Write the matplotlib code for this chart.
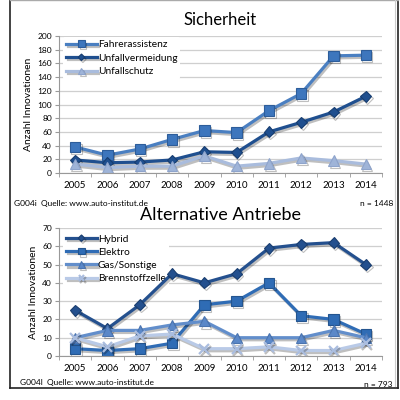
import matplotlib.pyplot as plt
import matplotlib.patheffects as pe
from matplotlib.lines import Line2D

plt.rcParams['font.family'] = ['Lato', 'DejaVu Sans']

years = ['2005', '2006', '2007', '2008', '2009', '2010', '2011', '2012', '2013', '2014']

# Sicherheit
fahrerassistenz = [38, 26, 35, 49, 62, 59, 91, 116, 171, 172]
unfallvermeidung = [19, 15, 16, 19, 31, 30, 60, 74, 89, 112]
unfallschutz = [13, 8, 10, 10, 25, 10, 14, 22, 18, 13]

# Alternative Antriebe
hybrid = [25, 15, 28, 45, 40, 45, 59, 61, 62, 50]
elektro = [4, 3, 4, 7, 28, 30, 40, 22, 20, 12]
gas = [10, 14, 14, 17, 19, 10, 10, 10, 14, 10]
brennstoff = [10, 5, 11, 12, 4, 4, 5, 3, 3, 7]

fig = plt.figure(figsize=(4, 4), dpi=100)
fig.patch.set_facecolor('white')

shadow = [pe.SimpleLineShadow(offset=(1, -1.5), alpha=0.25), pe.Normal()]


def style_axes(ax, ymax, ystep):
    ax.set_xlim(-0.5, 9.5)
    ax.set_ylim(0, ymax)
    ax.set_yticks(range(0, ymax + 1, ystep))
    ax.set_xticks(range(10))
    ax.set_xticklabels(years)
    ax.set_xticks([i - 0.5 for i in range(11)], minor=True)
    ax.tick_params(axis='x', which='major', length=0, labelsize=7, pad=6)
    ax.tick_params(axis='x', which='minor', length=3, color='#999999')
    ax.tick_params(axis='y', length=3, color='#999999', labelsize=6, pad=2)
    ax.grid(axis='y', color='#cfcfcf', lw=0.9)
    ax.set_axisbelow(True)
    for s in ['top', 'right']:
        ax.spines[s].set_visible(False)
    for s in ['left', 'bottom']:
        ax.spines[s].set_color('#999999')
        ax.spines[s].set_linewidth(0.8)
    ax.set_ylabel('Anzahl Innovationen', fontsize=7.5, labelpad=3)


def add_legend(ax, y0, spacing):
    leg = ax.legend(loc='upper left', bbox_to_anchor=(0.01, y0), fontsize=7.3, frameon=True,
                    framealpha=1, edgecolor='none', handlelength=3.0, handletextpad=0.1,
                    labelspacing=spacing, borderpad=0.3, borderaxespad=0.1, markerscale=0.6)
    # keep the legend behind the data lines, but above the grid
    leg.set_zorder(1.5)
    return leg


x = range(10)

# --- Sicherheit
ax1 = fig.add_axes([0.1475, 0.5675, 0.8075, 0.3425])
ax1.plot(x, fahrerassistenz, color='#4a7fc1', lw=2.3, marker='s', ms=7.5,
         mfc='#3d76bd', mec='#2d5d9a', mew=0.8, label='Fahrerassistenz', path_effects=shadow)
ax1.plot(x, unfallvermeidung, color='#1f4f8f', lw=2.3, marker='D', ms=5.5,
         mfc='#1f4f8f', mec='#173d70', mew=0.8, label='Unfallvermeidung', path_effects=shadow)
ax1.plot(x, unfallschutz, color='#a9bcdd', lw=2.3, marker='^', ms=7.5,
         mfc='#9fb4d8', mec='#8ea4cc', mew=0.8, label='Unfallschutz', path_effects=shadow)
style_axes(ax1, 200, 20)
ax1.set_title('Sicherheit', fontsize=12, pad=8)
add_legend(ax1, 1.0, 0.45)

fig.text(0.035, 0.492, 'G004i  Quelle: www.auto-institut.de', fontsize=6, va='center')
fig.text(0.983, 0.492, 'n = 1448', fontsize=6, va='center', ha='right')

# --- Alternative Antriebe
ax2 = fig.add_axes([0.1475, 0.11, 0.8075, 0.32])
ax2.plot(x, hybrid, color='#24508e', lw=2.3, marker='D', ms=5.5,
         mfc='#24508e', mec='#1a3e70', mew=0.8, label='Hybrid', path_effects=shadow)
ax2.plot(x, elektro, color='#2f6cb5', lw=2.3, marker='s', ms=7.5,
         mfc='#2f6cb5', mec='#24558f', mew=0.8, label='Elektro', path_effects=shadow)
ax2.plot(x, gas, color='#628ecb', lw=2.3, marker='^', ms=7.5,
         mfc='#5b88c8', mec='#4a74b0', mew=0.8, label='Gas/Sonstige', path_effects=shadow)
ax2.plot(x, brennstoff, color='#b9cae7', lw=2.3, marker='x', ms=7,
         mec='#aabddf', mew=1.6, label='Brennstoffzelle', path_effects=shadow)
style_axes(ax2, 70, 10)
ax2.set_title('Alternative Antriebe', fontsize=13, pad=6)
add_legend(ax2, 0.98, 0.4)

fig.text(0.05, 0.043, 'G004l  Quelle: www.auto-institut.de', fontsize=6, va='center')
fig.text(0.98, 0.038, 'n = 793', fontsize=6, va='center', ha='right')

# outer frame
fig.add_artist(Line2D([0.026, 0.026], [0.03, 1.0], color='#222222', lw=1.2))
fig.add_artist(Line2D([0.996, 0.996], [0.03, 1.0], color='#222222', lw=1.2))
fig.add_artist(Line2D([0.026, 0.996], [0.03, 0.03], color='#222222', lw=1.2))
fig.add_artist(Line2D([0.026, 0.996], [0.999, 0.999], color='#aaaaaa', lw=1.0))
fig.add_artist(Line2D([0.988, 0.988], [0.035, 0.999], color='#cccccc', lw=0.8))

fig.savefig('out.png', dpi=100)
